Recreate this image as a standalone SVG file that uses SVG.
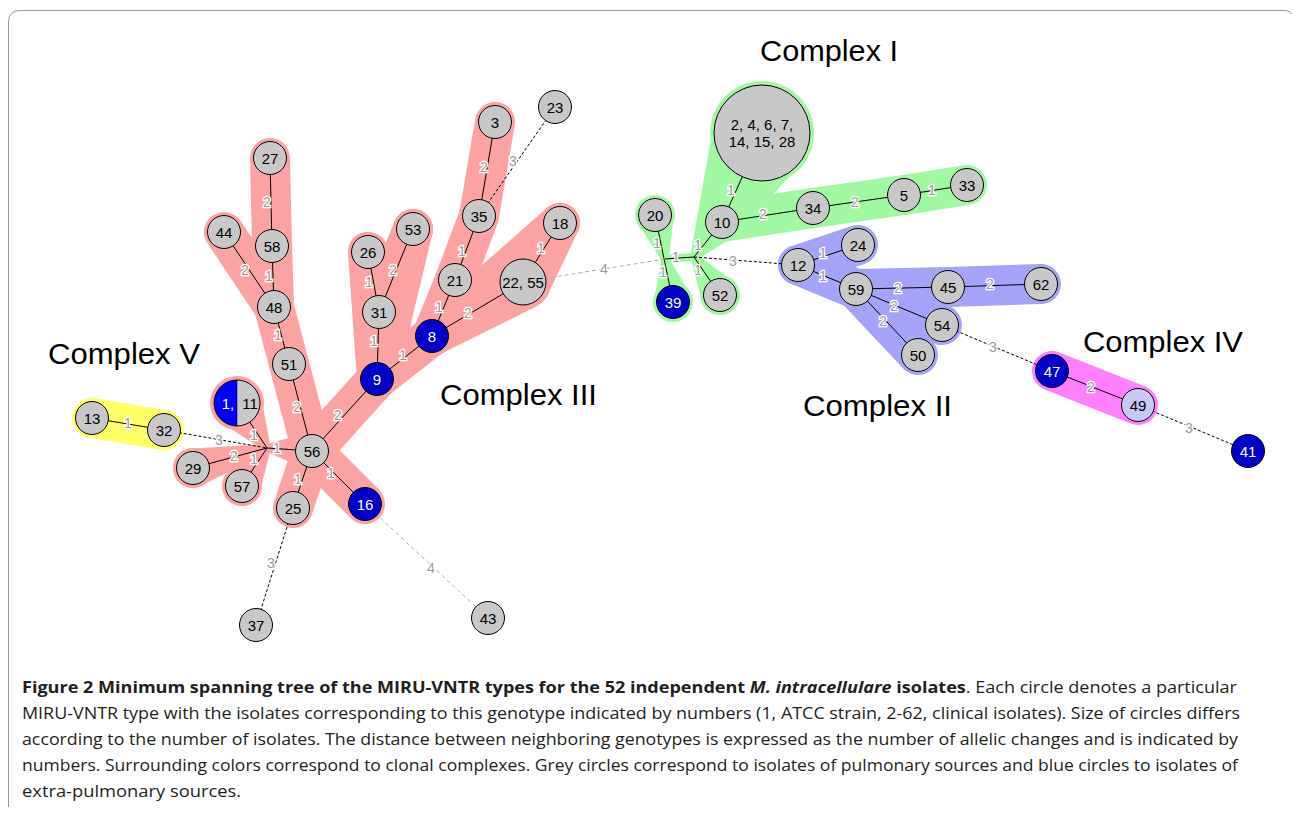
<svg xmlns="http://www.w3.org/2000/svg" width="1292" height="815" viewBox="0 0 1292 815">
<style>
.f3{fill:#fba3a3}.s3{stroke:#fba3a3}
.f1{fill:#a2f8a2}.s1{stroke:#a2f8a2}
.f2{fill:#a3a3f8}.s2{stroke:#a3a3f8}
.f4{fill:#ff80ff}.s4{stroke:#ff80ff}
.f5{fill:#ffff66}.s5{stroke:#ffff66}
.hl{stroke-width:40;stroke-linecap:round;fill:none}
.e{stroke:#000;stroke-width:1;fill:none}
.d{stroke:#000;stroke-width:1;stroke-dasharray:3 2;fill:none}
.g{stroke:#aaa;stroke-width:1;stroke-dasharray:4 3;fill:none}
.n{fill:#c8c8c8;stroke:#000;stroke-width:1}
.b{fill:#0000c8;stroke:#000;stroke-width:1}
.p{fill:#c8c8f4;stroke:#000;stroke-width:1}
.t{font-family:"Liberation Sans",Arial,sans-serif;font-size:15px;text-anchor:middle;fill:#000}
.tw{fill:#fff}
.l{font-family:"Liberation Sans",Arial,sans-serif;font-size:14px;fill:#9a9a9a;stroke:#fff;stroke-width:2.5;paint-order:stroke;text-anchor:middle}
.c{font-family:"Liberation Sans",Arial,sans-serif;font-size:29px;fill:#000}
.cap{font-family:"Open Sans","Liberation Sans",sans-serif;font-size:16px;fill:#231f20}
</style>
<path d="M8.5,807 V22 Q8.5,10.5 20.5,10.5 H1284 Q1290,10.5 1293,15" fill="none" stroke="#999" stroke-width="1"/>

<g id="halos">
  <!-- Complex III -->
  <g id="halo-complex-III">
    <line class="hl s3" x1="495" y1="122" x2="479" y2="216"/>
    <line class="hl s3" x1="479" y1="216" x2="455" y2="280"/>
    <line class="hl s3" x1="455" y1="280" x2="432" y2="336"/>
    <line class="hl s3" x1="432" y1="336" x2="377" y2="379"/>
    <line class="hl s3" x1="377" y1="379" x2="379" y2="312"/>
    <line class="hl s3" x1="379" y1="312" x2="368" y2="252"/>
    <line class="hl s3" x1="379" y1="312" x2="413" y2="229"/>
    <line class="hl s3" x1="368" y1="252" x2="377" y2="379"/>
    <line class="hl s3" x1="413" y1="229" x2="377" y2="379"/>
    <line class="hl s3" x1="377" y1="379" x2="312" y2="451"/>
    <line class="hl s3" x1="270" y1="158" x2="272" y2="246"/>
    <line class="hl s3" x1="272" y1="246" x2="274" y2="307"/>
    <line class="hl s3" x1="224" y1="232" x2="274" y2="307"/>
    <line class="hl s3" x1="274" y1="307" x2="289" y2="364"/>
    <line class="hl s3" x1="289" y1="364" x2="312" y2="451"/>
    <line class="hl s3" x1="312" y1="451" x2="293" y2="508"/>
    <line class="hl s3" x1="312" y1="451" x2="365" y2="504"/>
    <line class="hl s3" x1="560" y1="223" x2="432" y2="336"/>
    <polygon class="f3" points="442.2,353.2 537.3,306.1 508.7,257.9 421.8,318.8"/>
    <polygon class="f3" points="543.1,212.4 499.3,267.1 546.7,296.9 576.9,233.6"/>
    <polygon class="f3" points="214.5,418 263.7,450.2 270.3,445.8 259.5,388"/>
    <polygon class="f3" points="198.2,487.3 268,451.9 266,444.1 187.8,448.7"/>
    <polygon class="f3" points="258.7,497 270.3,450.2 263.7,445.8 225.3,475"/>
    <polygon class="f3" points="266.7,452 310.7,471 313.3,431 267.3,444"/>
    <circle class="f3" cx="523" cy="282" r="28"/>
    <circle class="f3" cx="237" cy="403" r="27"/>
    <circle class="f3" cx="193" cy="468" r="20"/>
    <circle class="f3" cx="242" cy="486" r="20"/>
    <circle class="f3" cx="560" cy="223" r="20"/>
    <circle class="f3" cx="432" cy="336" r="20"/>
    <circle class="f3" cx="267" cy="448" r="4"/>
  </g>
  <!-- Complex I -->
  <g id="halo-complex-I">
    <polygon class="f1" points="635.5,219.4 661.1,259.9 668.9,258.1 674.5,210.6"/>
    <polygon class="f1" points="661.1,259.7 653.3,305.7 692.7,298.3 668.9,258.3"/>
    <line x1="665" y1="259" x2="694" y2="257" class="s1" stroke-width="8" stroke-linecap="round"/>
    <polygon class="f1" points="697.1,259.5 737.6,234.5 706.4,209.5 690.9,254.5"/>
    <polygon class="f1" points="690.7,259.3 703.5,306.3 736.5,283.7 697.3,254.7"/>
    <polygon class="f1" points="740.2,230.2 809.4,154.3 714.6,111.7 703.8,213.8"/>
    <polygon class="f1" points="697.5,258.9 807.6,158 716.4,108 690.5,255.1"/>
    <circle class="f1" cx="655" cy="215" r="20"/>
    <circle class="f1" cx="673" cy="302" r="20"/>
    <circle class="f1" cx="720" cy="295" r="20"/>
    <circle class="f1" cx="722" cy="222" r="20"/>
    <circle class="f1" cx="762" cy="133" r="52"/>
    <line class="hl s1" x1="722" y1="222" x2="813" y2="208"/>
    <line class="hl s1" x1="813" y1="208" x2="904" y2="195"/>
    <line class="hl s1" x1="904" y1="195" x2="967" y2="185"/>
  </g>
  <!-- Complex II -->
  <g id="halo-complex-II">
    <line class="hl s2" x1="798" y1="265" x2="858" y2="245"/>
    <line class="hl s2" x1="798" y1="265" x2="856" y2="289"/>
    <line class="hl s2" x1="856" y1="289" x2="948" y2="287"/>
    <line class="hl s2" x1="948" y1="287" x2="1041" y2="284"/>
    <line class="hl s2" x1="856" y1="289" x2="942" y2="325"/>
    <line class="hl s2" x1="856" y1="289" x2="918" y2="355"/>
  </g>
  <g id="halo-complex-IV">
    <line class="hl s4" x1="1052" y1="371" x2="1138" y2="405"/>
  </g>
  <g id="halo-complex-V">
    <line class="hl s5" x1="92" y1="418" x2="164" y2="430"/>
  </g>
</g>

<g id="connectors">
  <line class="e" x1="495" y1="122" x2="479" y2="216"/>
  <line class="e" x1="479" y1="216" x2="455" y2="280"/>
  <line class="e" x1="455" y1="280" x2="432" y2="336"/>
  <line class="e" x1="432" y1="336" x2="523" y2="282"/>
  <line class="e" x1="523" y1="282" x2="560" y2="223"/>
  <line class="e" x1="432" y1="336" x2="377" y2="379"/>
  <line class="e" x1="377" y1="379" x2="379" y2="312"/>
  <line class="e" x1="379" y1="312" x2="368" y2="252"/>
  <line class="e" x1="379" y1="312" x2="413" y2="229"/>
  <line class="e" x1="377" y1="379" x2="312" y2="451"/>
  <line class="e" x1="270" y1="158" x2="272" y2="246"/>
  <line class="e" x1="272" y1="246" x2="274" y2="307"/>
  <line class="e" x1="224" y1="232" x2="274" y2="307"/>
  <line class="e" x1="274" y1="307" x2="289" y2="364"/>
  <line class="e" x1="289" y1="364" x2="312" y2="451"/>
  <line class="e" x1="312" y1="451" x2="293" y2="508"/>
  <line class="e" x1="312" y1="451" x2="365" y2="504"/>
  <line class="e" x1="267" y1="448" x2="312" y2="451"/>
  <line class="e" x1="267" y1="448" x2="237" y2="403"/>
  <line class="e" x1="267" y1="448" x2="193" y2="468"/>
  <line class="e" x1="267" y1="448" x2="242" y2="486"/>
  <line class="e" x1="92" y1="418" x2="164" y2="430"/>
  <line class="e" x1="655" y1="215" x2="673" y2="302"/>
  <line class="e" x1="665" y1="259" x2="694" y2="257"/>
  <line class="e" x1="694" y1="257" x2="722" y2="222"/>
  <line class="e" x1="694" y1="257" x2="720" y2="295"/>
  <line class="e" x1="722" y1="222" x2="762" y2="133"/>
  <line class="e" x1="722" y1="222" x2="813" y2="208"/>
  <line class="e" x1="813" y1="208" x2="904" y2="195"/>
  <line class="e" x1="904" y1="195" x2="967" y2="185"/>
  <line class="e" x1="798" y1="265" x2="858" y2="245"/>
  <line class="e" x1="798" y1="265" x2="856" y2="289"/>
  <line class="e" x1="856" y1="289" x2="948" y2="287"/>
  <line class="e" x1="948" y1="287" x2="1041" y2="284"/>
  <line class="e" x1="856" y1="289" x2="942" y2="325"/>
  <line class="e" x1="856" y1="289" x2="918" y2="355"/>
  <line class="e" x1="1052" y1="371" x2="1138" y2="405"/>
  <line class="d" x1="479" y1="216" x2="555" y2="107"/>
  <line class="d" x1="164" y1="430" x2="267" y2="448"/>
  <line class="d" x1="293" y1="508" x2="256" y2="625"/>
  <line class="d" x1="694" y1="257" x2="798" y2="265"/>
  <line class="d" x1="942" y1="325" x2="1052" y2="371"/>
  <line class="d" x1="1138" y1="405" x2="1248" y2="451"/>
  <line class="g" x1="523" y1="282" x2="665" y2="259"/>
  <line class="g" x1="365" y1="504" x2="488" y2="618"/>
</g>

<g id="edge-labels">
  <text class="l" x="484" y="172">2</text>
  <text class="l" x="513" y="166">3</text>
  <text class="l" x="267" y="207">2</text>
  <text class="l" x="245" y="275">2</text>
  <text class="l" x="269" y="281">1</text>
  <text class="l" x="369" y="287">1</text>
  <text class="l" x="393" y="275">2</text>
  <text class="l" x="462" y="256">1</text>
  <text class="l" x="541" y="253">1</text>
  <text class="l" x="439" y="312">1</text>
  <text class="l" x="468" y="318">2</text>
  <text class="l" x="374" y="346">1</text>
  <text class="l" x="403" y="360">1</text>
  <text class="l" x="278" y="340">1</text>
  <text class="l" x="297" y="412">2</text>
  <text class="l" x="338" y="420">2</text>
  <text class="l" x="128" y="428">1</text>
  <text class="l" x="219" y="445">3</text>
  <text class="l" x="234" y="461">2</text>
  <text class="l" x="254" y="464">1</text>
  <text class="l" x="254" y="440">1</text>
  <text class="l" x="277" y="453">1</text>
  <text class="l" x="298" y="484">1</text>
  <text class="l" x="331" y="478">1</text>
  <text class="l" x="271" y="568">3</text>
  <text class="l" x="431" y="573">4</text>
  <text class="l" x="604" y="274">4</text>
  <text class="l" x="731" y="195">1</text>
  <text class="l" x="657" y="248">1</text>
  <text class="l" x="676" y="262">1</text>
  <text class="l" x="663" y="277">1</text>
  <text class="l" x="698" y="250">1</text>
  <text class="l" x="698" y="275">1</text>
  <text class="l" x="733" y="266">3</text>
  <text class="l" x="763" y="219">2</text>
  <text class="l" x="855" y="207">2</text>
  <text class="l" x="932" y="195">1</text>
  <text class="l" x="823" y="258">1</text>
  <text class="l" x="823" y="281">1</text>
  <text class="l" x="898" y="293">2</text>
  <text class="l" x="990" y="289">2</text>
  <text class="l" x="894" y="311">2</text>
  <text class="l" x="883" y="326">2</text>
  <text class="l" x="993" y="352">3</text>
  <text class="l" x="1091" y="392">2</text>
  <text class="l" x="1189" y="433">3</text>
</g>

<g id="nodes">
  <g id="n23"><circle class="n" cx="555" cy="107" r="16.5"/><text class="t" x="555" y="112.5">23</text></g>
  <g id="n3"><circle class="n" cx="495" cy="122" r="16.5"/><text class="t" x="495" y="127.5">3</text></g>
  <g id="n27"><circle class="n" cx="270" cy="158" r="16.5"/><text class="t" x="270" y="163.5">27</text></g>
  <g id="n35"><circle class="n" cx="479" cy="216" r="16.5"/><text class="t" x="479" y="221.5">35</text></g>
  <g id="n18"><circle class="n" cx="560" cy="223" r="16.5"/><text class="t" x="560" y="228.5">18</text></g>
  <g id="n44"><circle class="n" cx="224" cy="232" r="16.5"/><text class="t" x="224" y="237.5">44</text></g>
  <g id="n58"><circle class="n" cx="272" cy="246" r="16.5"/><text class="t" x="272" y="251.5">58</text></g>
  <g id="n26"><circle class="n" cx="368" cy="252" r="16.5"/><text class="t" x="368" y="257.5">26</text></g>
  <g id="n53"><circle class="n" cx="413" cy="229" r="16.5"/><text class="t" x="413" y="234.5">53</text></g>
  <g id="n21"><circle class="n" cx="455" cy="280" r="16.5"/><text class="t" x="455" y="285.5">21</text></g>
  <g id="n22-55"><circle class="n" cx="523" cy="282" r="23"/><text class="t" x="523" y="288" font-size="16">22, 55</text></g>
  <g id="n48"><circle class="n" cx="274" cy="307" r="16.5"/><text class="t" x="274" y="312.5">48</text></g>
  <g id="n31"><circle class="n" cx="379" cy="312" r="16.5"/><text class="t" x="379" y="317.5">31</text></g>
  <g id="n8"><circle class="b" cx="432" cy="336" r="16.5"/><text class="t tw" x="432" y="341.5">8</text></g>
  <g id="n51"><circle class="n" cx="289" cy="364" r="16.5"/><text class="t" x="289" y="369.5">51</text></g>
  <g id="n9"><circle class="b" cx="377" cy="379" r="16.5"/><text class="t tw" x="377" y="384.5">9</text></g>
  <g id="n1-11">
    <path d="M237,380 A23,23 0 0,0 237,426 Z" fill="#0000ff"/>
    <path d="M237,380 A23,23 0 0,1 237,426 Z" fill="#c8c8c8"/>
    <circle cx="237" cy="403" r="23" fill="none" stroke="#000"/>
    <line x1="237" y1="380" x2="237" y2="426" stroke="#000" stroke-width="0.5"/>
    <text class="t" y="409" font-size="16"><tspan x="228" class="tw">1,</tspan><tspan x="250">11</tspan></text>
  </g>
  <g id="n13"><circle class="n" cx="92" cy="418" r="16.5"/><text class="t" x="92" y="423.5">13</text></g>
  <g id="n32"><circle class="n" cx="164" cy="430" r="16.5"/><text class="t" x="164" y="435.5">32</text></g>
  <g id="n56"><circle class="n" cx="312" cy="451" r="16.5"/><text class="t" x="312" y="456.5">56</text></g>
  <g id="n29"><circle class="n" cx="193" cy="468" r="16.5"/><text class="t" x="193" y="473.5">29</text></g>
  <g id="n57"><circle class="n" cx="242" cy="486" r="16.5"/><text class="t" x="242" y="491.5">57</text></g>
  <g id="n25"><circle class="n" cx="293" cy="508" r="16.5"/><text class="t" x="293" y="513.5">25</text></g>
  <g id="n16"><circle class="b" cx="365" cy="504" r="16.5"/><text class="t tw" x="365" y="509.5">16</text></g>
  <g id="n37"><circle class="n" cx="256" cy="625" r="16.5"/><text class="t" x="256" y="630.5">37</text></g>
  <g id="n43"><circle class="n" cx="488" cy="618" r="16.5"/><text class="t" x="488" y="623.5">43</text></g>
  <g id="n-big"><circle class="n" cx="762" cy="133" r="48"/><text class="t" x="762" y="130" font-size="15.5">2, 4, 6, 7,</text><text class="t" x="762" y="147" font-size="15.5">14, 15, 28</text></g>
  <g id="n20"><circle class="n" cx="655" cy="215" r="16.5"/><text class="t" x="655" y="220.5">20</text></g>
  <g id="n10"><circle class="n" cx="722" cy="222" r="16.5"/><text class="t" x="722" y="227.5">10</text></g>
  <g id="n34"><circle class="n" cx="813" cy="208" r="16.5"/><text class="t" x="813" y="213.5">34</text></g>
  <g id="n5"><circle class="n" cx="904" cy="195" r="16.5"/><text class="t" x="904" y="200.5">5</text></g>
  <g id="n33"><circle class="n" cx="967" cy="185" r="16.5"/><text class="t" x="967" y="190.5">33</text></g>
  <g id="n39"><circle class="b" cx="673" cy="302" r="16.5"/><text class="t tw" x="673" y="307.5">39</text></g>
  <g id="n52"><circle class="n" cx="720" cy="295" r="16.5"/><text class="t" x="720" y="300.5">52</text></g>
  <g id="n12"><circle class="n" cx="798" cy="265" r="16.5"/><text class="t" x="798" y="270.5">12</text></g>
  <g id="n24"><circle class="n" cx="858" cy="245" r="16.5"/><text class="t" x="858" y="250.5">24</text></g>
  <g id="n59"><circle class="n" cx="856" cy="289" r="16.5"/><text class="t" x="856" y="294.5">59</text></g>
  <g id="n45"><circle class="n" cx="948" cy="287" r="16.5"/><text class="t" x="948" y="292.5">45</text></g>
  <g id="n62"><circle class="n" cx="1041" cy="284" r="16.5"/><text class="t" x="1041" y="289.5">62</text></g>
  <g id="n54"><circle class="n" cx="942" cy="325" r="16.5"/><text class="t" x="942" y="330.5">54</text></g>
  <g id="n50"><circle class="n" cx="918" cy="355" r="16.5"/><text class="t" x="918" y="360.5">50</text></g>
  <g id="n47"><circle class="b" cx="1052" cy="371" r="16.5"/><text class="t tw" x="1052" y="376.5">47</text></g>
  <g id="n49"><circle class="p" cx="1138" cy="405" r="16.5"/><text class="t" x="1138" y="410.5">49</text></g>
  <g id="n41"><circle class="b" cx="1248" cy="451" r="16.5"/><text class="t tw" x="1248" y="456.5">41</text></g>
</g>

<g id="complex-labels">
  <text class="c" x="760" y="61" textLength="138" lengthAdjust="spacingAndGlyphs">Complex I</text>
  <text class="c" x="48" y="364" textLength="152" lengthAdjust="spacingAndGlyphs">Complex V</text>
  <text class="c" x="440" y="405" textLength="157" lengthAdjust="spacingAndGlyphs">Complex III</text>
  <text class="c" x="803" y="416" textLength="149" lengthAdjust="spacingAndGlyphs">Complex II</text>
  <text class="c" x="1083" y="352" textLength="160" lengthAdjust="spacingAndGlyphs">Complex IV</text>
</g>

<g id="caption">
  <text class="cap" x="22" y="693" textLength="1215" lengthAdjust="spacingAndGlyphs"><tspan font-weight="bold">Figure 2 Minimum spanning tree of the MIRU-VNTR types for the 52 independent </tspan><tspan font-weight="bold" font-style="italic">M. intracellulare</tspan><tspan font-weight="bold"> isolates</tspan>. Each circle denotes a particular</text>
  <text class="cap" x="22" y="719" textLength="1218" lengthAdjust="spacingAndGlyphs">MIRU-VNTR type with the isolates corresponding to this genotype indicated by numbers (1, ATCC strain, 2-62, clinical isolates). Size of circles differs</text>
  <text class="cap" x="22" y="745" textLength="1216" lengthAdjust="spacingAndGlyphs">according to the number of isolates. The distance between neighboring genotypes is expressed as the number of allelic changes and is indicated by</text>
  <text class="cap" x="22" y="771" textLength="1216" lengthAdjust="spacingAndGlyphs">numbers. Surrounding colors correspond to clonal complexes. Grey circles correspond to isolates of pulmonary sources and blue circles to isolates of</text>
  <text class="cap" x="22" y="797" textLength="219" lengthAdjust="spacingAndGlyphs">extra-pulmonary sources.</text>
</g>
</svg>
